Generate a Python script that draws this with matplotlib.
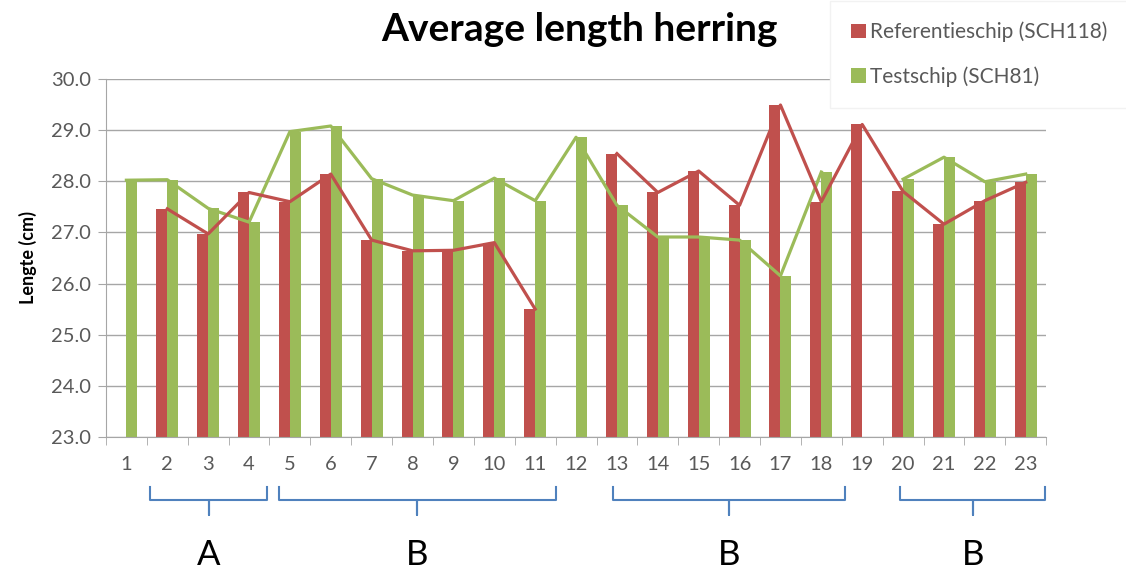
import matplotlib.pyplot as plt
import numpy as np

plt.rcParams['font.family'] = ['Lato', 'DejaVu Sans']

# category labels and mean lengths (cm), nan = not sampled
categories = [str(i) for i in range(1, 24)]
ref_ship = [np.nan, 27.46, 26.97, 27.78, 27.6, 28.14, 26.85, 26.64, 26.65, 26.8,
            25.5, np.nan, 28.54, 27.78, 28.2, 27.53, 29.49, 27.6, 29.11, 27.8,
            27.16, 27.62, 27.98]
test_ship = [28.02, 28.03, 27.47, 27.2, 28.97, 29.08, 28.05, 27.73, 27.62, 28.06,
             27.62, 28.86, 27.53, 26.91, 26.91, 26.85, 26.15, 28.18, np.nan, 28.04,
             28.47, 27.99, 28.14]

# groups marked below the axis: (bracket start, bracket end, label) in category units
groups = [(1.58, 4.44, 'A'), (4.73, 11.51, 'B'), (12.9, 18.58, 'B'), (19.93, 23.48, 'B')]

red = '#C0504D'
green = '#9BBB59'
blue = '#4F81BD'
grey = '#595959'

fig = plt.figure(figsize=(11.26, 5.72), dpi=100)
ax = fig.add_axes([0.0941, 0.236, 0.835, 0.626])

x = np.arange(1, len(categories) + 1)
w = 0.27
ax.bar(x - w / 2, ref_ship, width=w, color=red, zorder=2,
       label='Referentieschip (SCH118)')
ax.bar(x + w / 2, test_ship, width=w, color=green, zorder=2,
       label='Testschip (SCH81)')
ax.plot(x, test_ship, color=green, lw=2.3, zorder=3)
ax.plot(x, ref_ship, color=red, lw=2.3, zorder=4)

# axes formatting
ax.set_xlim(0.5, 23.5)
ax.set_ylim(23, 30)
ax.set_yticks(np.arange(23, 31, 1))
ax.set_yticklabels(['%.1f' % v for v in np.arange(23, 31, 1)])
ax.set_xticks(x)
ax.set_xticklabels(categories)
ax.set_xticks(np.arange(0.5, 24, 1), minor=True)
ax.tick_params(axis='x', which='major', length=0, pad=14, labelsize=14.5, labelcolor=grey)
ax.tick_params(axis='x', which='minor', length=6, color='#A6A6A6')
ax.tick_params(axis='y', length=6, color='#A6A6A6', labelsize=14.5, labelcolor=grey, pad=5)
ax.grid(axis='y', color='#A6A6A6', lw=1, zorder=0)
for s in ['top', 'right']:
    ax.spines[s].set_visible(False)
for s in ['left', 'bottom']:
    ax.spines[s].set_color('#A6A6A6')
ax.set_ylabel('Lengte (cm)', fontsize=13, fontweight='bold', labelpad=10)

fig.text(0.515, 0.928, 'Average length herring', ha='center', va='baseline',
         fontsize=28, fontweight='bold')

leg = fig.legend(loc='upper right', bbox_to_anchor=(1.011, 1.017), fontsize=15,
                 frameon=True, fancybox=False, handlelength=0.7, handleheight=0.7,
                 handletextpad=0.2, labelspacing=1.15, borderpad=1.0,
                 labelcolor=grey)
leg.get_frame().set_edgecolor('#F2F2F2')
leg.get_frame().set_facecolor('white')
leg.get_frame().set_alpha(1)

# curly brackets below the categories
trans = ax.get_xaxis_transform()
for x0, x1, name in groups:
    xm = (x0 + x1) / 2
    ax.plot([x0, x0, xm, xm, xm, x1, x1], [-0.14, -0.176, -0.176, -0.218, -0.176, -0.176, -0.14],
            color=blue, lw=1.5, transform=trans, clip_on=False, solid_joinstyle='round')
    ax.text(xm, -0.3575, name, transform=trans, ha='center', va='baseline', fontsize=25)

plt.savefig('out.png', dpi=100)
